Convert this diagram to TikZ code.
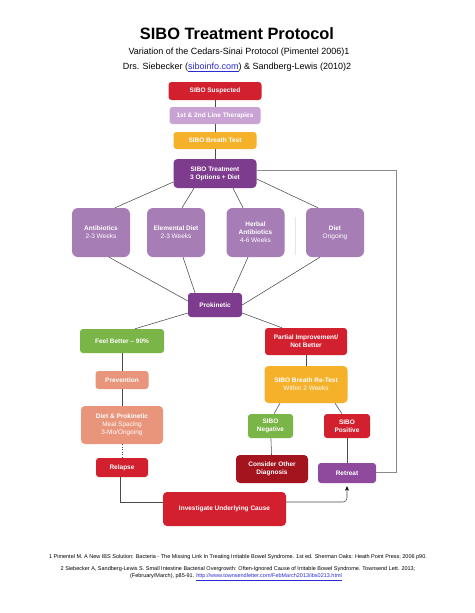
\documentclass[tikz,border=0pt]{standalone}
\usepackage{fontspec}
\setmainfont{Liberation Sans}
\usetikzlibrary{arrows.meta,calc}
\definecolor{cred}{HTML}{D2202F}
\definecolor{cdred}{HTML}{A3141F}
\definecolor{clav}{HTML}{C9A3D3}
\definecolor{corange}{HTML}{F6B12B}
\definecolor{cpurple}{HTML}{7E3C8E}
\definecolor{cmpurple}{HTML}{A67DB5}
\definecolor{cretr}{HTML}{8F4A9E}
\definecolor{cgreen}{HTML}{7AB547}
\definecolor{csalmon}{HTML}{E9957C}
\definecolor{linegray}{HTML}{4A4A4A}
\definecolor{loopgray}{HTML}{8A8A8A}
\definecolor{sepgray}{HTML}{E4E4E4}
\definecolor{linkblue}{HTML}{2B2BD6}
\begin{document}
\begin{tikzpicture}[x=1pt,y=-1pt,
  box/.style={rounded corners=3pt, text=white, inner sep=0pt, align=center,
    font=\fontsize{6.5}{8}\selectfont\bfseries},
  bigbox/.style={box, rounded corners=6pt, fill=cmpurple, minimum width=58pt, minimum height=49pt},
  conn/.style={draw=linegray, line width=0.55pt},
  loopline/.style={draw=loopgray, line width=1pt},
  sub/.style={font=\fontsize{9}{11}\selectfont},
  foot/.style={font=\fontsize{5.5}{6.5}\selectfont},
]
\useasboundingbox[fill=white] (0,0) rectangle (474,613);

% titles
\node[font=\fontsize{16.4}{20}\selectfont\bfseries] (title) at (237,34) {SIBO Treatment Protocol};
\node[sub] (sub1) at (239,52) {Variation of the Cedars-Sinai Protocol (Pimentel 2006)1};
\node[sub] (sub2) at (237,67) {Drs. Siebecker ({\color{linkblue}\underline{siboinfo.com}}) \& Sandberg-Lewis (2010)2};

% main column
\node[box, fill=cred, minimum width=93pt, minimum height=18pt] (susp) at (215,91) {SIBO Suspected};
\node[box, fill=clav, minimum width=91pt, minimum height=17pt] (ther) at (215,115.5) {1st \& 2nd Line Therapies};
\node[box, fill=corange, minimum width=83pt, minimum height=17pt] (btest) at (215,140.5) {SIBO Breath Test};
\node[box, fill=cpurple, minimum width=83pt, minimum height=29pt, rounded corners=4pt] (treat) at (215,173.5) {SIBO Treatment\\3 Options + Diet};

% options
\node[bigbox] (anti) at (101,232.5) {Antibiotics\\{\mdseries 2-3 Weeks}};
\node[bigbox] (elem) at (176,232.5) {Elemental Diet\\{\mdseries 2-3 Weeks}};
\node[bigbox] (herb) at (255.5,232.5) {Herbal\\Antibiotics\\{\mdseries 4-6 Weeks}};
\node[bigbox] (diet) at (335,232.5) {Diet\\{\mdseries Ongoing}};
\draw[sepgray, line width=0.6pt] (295,217) -- (295,255);

\node[box, fill=cpurple, minimum width=54pt, minimum height=24pt] (prok) at (215,305) {Prokinetic};

% left branch
\node[box, fill=cgreen, minimum width=84pt, minimum height=24pt] (feel) at (122,341) {Feel Better -- 90\%};
\node[box, fill=csalmon, minimum width=53pt, minimum height=18pt] (prev) at (122,380) {Prevention};
\node[box, fill=csalmon, minimum width=82pt, minimum height=38pt, rounded corners=4pt] (dp) at (122,425) {Diet \& Prokinetic\\{\mdseries Meal Spacing}\\{\mdseries 3-Mo/Ongoing}};
\node[box, fill=cred, minimum width=52pt, minimum height=19pt] (rel) at (122,467.5) {Relapse};

% right branch
\node[box, fill=cred, minimum width=82pt, minimum height=27pt] (part) at (306,341.5) {Partial Improvement/\\Not Better};
\node[box, fill=corange, minimum width=83pt, minimum height=37pt, rounded corners=4pt] (retest) at (306,384.5) {SIBO Breath Re-Test\\{\mdseries Within 2 Weeks}};
\node[box, fill=cgreen, minimum width=45pt, minimum height=24pt] (neg) at (270.5,426) {SIBO\\Negative};
\node[box, fill=cred, minimum width=46pt, minimum height=24pt] (pos) at (347,426) {SIBO\\Positive};
\node[box, fill=cdred, minimum width=72pt, minimum height=28pt, rounded corners=4pt] (cons) at (272,469) {Consider Other\\Diagnosis};
\node[box, fill=cretr, minimum width=58pt, minimum height=20pt] (retr) at (347,473) {Retreat};
\node[box, fill=cred, minimum width=123pt, minimum height=34pt, rounded corners=4pt] (inv) at (224.5,509) {Investigate Underlying Cause};

% connectors main column
\draw[conn] (susp) -- (ther);
\draw[conn] (ther) -- (btest);
\draw[conn] (btest) -- (treat);

% treatment to options
\draw[conn] ([yshift=-8.5pt]treat.west) -- ([xshift=14pt]anti.north);
\draw[conn] ([xshift=-21pt]treat.south) -- ([xshift=6pt]elem.north);
\draw[conn] ([xshift=18pt]treat.south) -- ([xshift=-12.5pt]herb.north);
\draw[conn] ([yshift=-5.5pt]treat.east) -- ([xshift=-17pt]diet.north);

% options to prokinetic
\draw[conn] ([xshift=8pt]anti.south) -- ([yshift=4pt]prok.west);
\draw[conn] ([xshift=7pt]elem.south) -- ([xshift=-20pt]prok.north);
\draw[conn] ([xshift=-7.5pt]herb.south) -- ([xshift=17pt]prok.north);
\draw[conn] ([xshift=-15pt]diet.south) -- (prok.east);

% prokinetic to branches
\draw[conn] ([yshift=-8pt]prok.west) -- ([xshift=13pt]feel.north);
\draw[conn] ([yshift=-8pt]prok.east) -- ([xshift=-24pt]part.north);

% left branch
\draw[conn] (feel) -- (prev);
\draw[conn] (prev) -- (dp);
\draw[conn, dotted] (dp) -- (rel);
\draw[conn] ([xshift=-2pt]rel.south) |- ([yshift=7pt]inv.west);
\draw[conn, rounded corners=4pt, -{Stealth[length=4.5pt,width=4pt,color=black]}, shorten >=3pt] ([yshift=7pt]inv.east) -| (retr.south);

% right branch
\draw[conn] (part) -- (retest);
\draw[conn] ([xshift=-26pt]retest.south) -- ([xshift=3.5pt]neg.north);
\draw[conn] ([xshift=29pt]retest.south) -- ([xshift=-5pt]pos.north);
\draw[conn] (neg) -- (cons);
\draw[conn] (pos) -- (retr);

% loop back
\coordinate (lp) at (396,0);
\draw[loopline] ([yshift=3.5pt]treat.east) -- ([yshift=3.5pt]treat.east -| lp) -- ([yshift=1pt]retr.east -| lp) -- ([yshift=1pt]retr.east);

% footnotes
\node[foot] (f1) at (238,557) {1 Pimentel M. A New IBS Solution: Bacteria - The Missing Link In Treating Irritable Bowel Syndrome. 1st ed. Sherman Oaks: Heath Point Press; 2006 p90.};
\node[foot] (f2) at (238,569) {2 Siebecker A, Sandberg-Lewis S. Small Intestine Bacterial Overgrowth: Often-Ignored Cause of Irritable Bowel Syndrome. Townsend Lett. 2013;};
\node[foot] (f3) at (236,577) {(February/March), p85-91. {\color{linkblue}\underline{http://www.townsendletter.com/FebMarch2013/ibs0213.html}}};
\end{tikzpicture}
\end{document}
